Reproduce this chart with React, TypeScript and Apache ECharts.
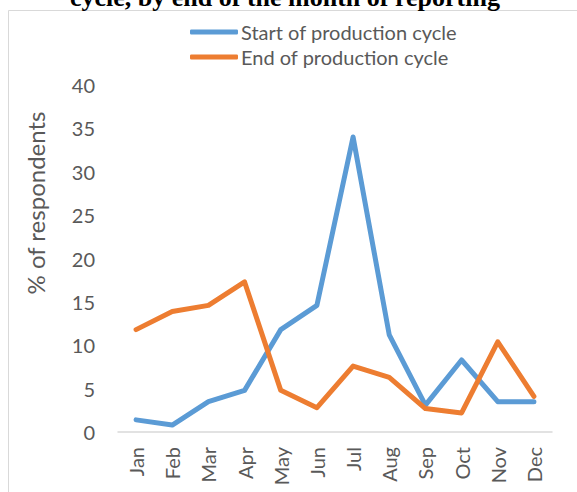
import React, { useEffect, useRef } from "react";
import * as echarts from "echarts";

const months = ["Jan", "Feb", "Mar", "Apr", "May", "Jun", "Jul", "Aug", "Sep", "Oct", "Nov", "Dec"];
const startCycle = [1.4, 0.8, 3.5, 4.8, 11.8, 14.6, 34.0, 11.2, 3.1, 8.3, 3.5, 3.5];
const endCycle = [11.8, 13.9, 14.6, 17.3, 4.8, 2.8, 7.6, 6.3, 2.7, 2.2, 10.4, 4.1];
const seriesNames = ["Start of production cycle", "End of production cycle"];
const titleText = "cycle, by end of the month of reporting";
const yAxisTitle = "% of respondents";

export default function App() {
  const ref = useRef<HTMLDivElement>(null);
  useEffect(() => {
    document.body.style.margin = "0";
    document.body.style.overflow = "hidden";
    const chart = echarts.init(ref.current!, undefined, { renderer: "svg" });
    const font = "Lato";
    chart.setOption({
      animation: false,
      backgroundColor: "#ffffff",
      textStyle: { fontFamily: font },
      grid: { left: 118, right: 25, top: 85, bottom: 60, containLabel: false },
      legend: {
        orient: "vertical",
        left: 185,
        top: 17,
        itemGap: 5,
        itemWidth: 48,
        itemHeight: 5,
        icon: "roundRect",
        textStyle: { color: "#595959", fontSize: 20, fontFamily: font, padding: [0, 0, 0, -2] },
        data: seriesNames,
      },
      xAxis: {
        type: "category",
        data: months,
        boundaryGap: true,
        axisLine: { show: true, lineStyle: { color: "#d9d9d9", width: 1.5 } },
        axisTick: { show: false },
        axisLabel: { rotate: 90, color: "#595959", fontSize: 20, fontFamily: font, margin: 15 },
        splitLine: { show: false },
      },
      yAxis: {
        type: "value",
        min: 0,
        max: 40,
        interval: 5,
        axisLine: { show: false },
        axisTick: { show: false },
        splitLine: { show: false },
        axisLabel: { color: "#595959", fontSize: 20, fontFamily: font, margin: 23 },
      },
      graphic: [
        {
          type: "rect",
          shape: { x: 8.5, y: 10.5, width: 620, height: 520 },
          style: { fill: "none", stroke: "#d9d9d9", lineWidth: 1 },
          silent: true,
        },
        {
          type: "text",
          x: 70,
          y: -3,
          style: {
            text: titleText,
            font: "bold 26px 'Liberation Serif'",
            fill: "#000000",
            verticalAlign: "middle",
          },
        },
        {
          type: "text",
          x: 35,
          y: 203,
          rotation: Math.PI / 2,
          style: {
            text: yAxisTitle,
            font: "24px Lato",
            fill: "#595959",
            align: "center",
            verticalAlign: "middle",
          },
        },
      ],
      series: [
        {
          name: seriesNames[0],
          type: "line",
          data: startCycle,
          symbol: "none",
          color: "#5B9BD5",
          lineStyle: { width: 5, color: "#5B9BD5", cap: "round", join: "round" },
        },
        {
          name: seriesNames[1],
          type: "line",
          data: endCycle,
          symbol: "none",
          color: "#ED7D31",
          lineStyle: { width: 5, color: "#ED7D31", cap: "round", join: "round" },
        },
      ],
    });
    return () => chart.dispose();
  }, []);
  return <div ref={ref} style={{ width: 577, height: 492 }} />;
}
